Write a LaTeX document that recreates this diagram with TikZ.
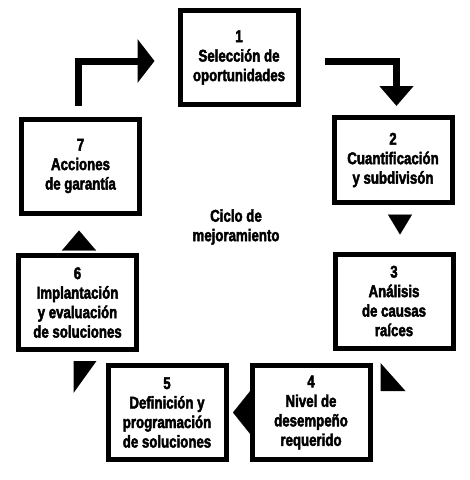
\documentclass[tikz,border=0pt]{standalone}
\usepackage{fontspec}
\setmainfont{Liberation Sans}[FakeStretch=0.78, BoldFont = Liberation Sans Bold, BoldFeatures = {FakeStretch=0.78, FakeBold=2.5}]
\usetikzlibrary{arrows.meta, calc}

\tikzset{
	stage/.style = {draw, line width = 5pt, minimum width = 118pt, minimum height = 94pt,
		inner sep = 0pt, align = center, font = \fontsize{17}{19.5}\selectfont\bfseries},
	elbow/.style = {line width = 7pt},
	tip/.style = {line width = .1pt},
}

\begin{document}
\begin{tikzpicture}[x = 1pt, y = -1pt]
		\useasboundingbox (0,0) rectangle (470,480);

		% the seven stages
		\node (n1) at (239,57.5) [stage] {1\\Selección de\\oportunidades};
		\node (n2) at (393,160) [stage, minimum height = 85pt] {2\\Cuantificación\\y subdivisón};
		\node (n3) at (394,301) [stage] {3\\Análisis\\de causas\\raíces};
		\node (n4) at (311,412.5) [stage] {4\\Nivel de\\desempeño\\requerido};
		\node (n5) at (167,412.5) [stage] {5\\Definición y\\programación\\de soluciones};
		\node (n6) at (77.5,302.5) [stage] {6\\Implantación\\y evaluación\\de soluciones};
		\node (n7) at (80.5,166) [stage] {7\\Acciones\\de garantía};

		\node (ciclo) at (236,227) [align = center, font = \fontsize{17}{19.5}\selectfont\bfseries] {Ciclo de\\mejoramiento};

		% connectors
		\draw [elbow, -{Triangle[length = 17pt, width = 43pt]}] ($(n7.north)+(-2,-11)$) |- ($(n1.west)+(-23,3.5)$);
		\draw [elbow, -{Triangle[length = 20pt, width = 33pt]}] ($(n1.east)+(24,3.5)$) -| ($(n2.north)+(3.5,-9)$);
		\draw [tip, -{Triangle[length = 20pt, width = 24pt]}] ($(n2.south)+(7,14.5)$) -- ($(n3.north)+(6,-17)$);
		\fill ($(n4.north east)+(8,0)$) -- ($(n4.north east)+(8,28)$) -- ($(n4.north east)+(33,28)$) -- cycle;
		\draw [tip, -{Triangle[length = 18pt, width = 45pt]}] ([xshift = -4.5pt]n4.west) -- ([xshift = 4.5pt]n5.east);
		\fill ($(n5.north west)+(-32,-2)$) -- ($(n5.north west)+(-9,-2)$) -- ($(n5.north west)+(-32,30)$) -- cycle;
		\draw [tip, -{Triangle[length = 20pt, width = 34pt]}] ($(n6.north)+(1.5,-7.5)$) -- ($(n7.south)+(-1.5,15)$);
		\end{tikzpicture}
\end{document}
